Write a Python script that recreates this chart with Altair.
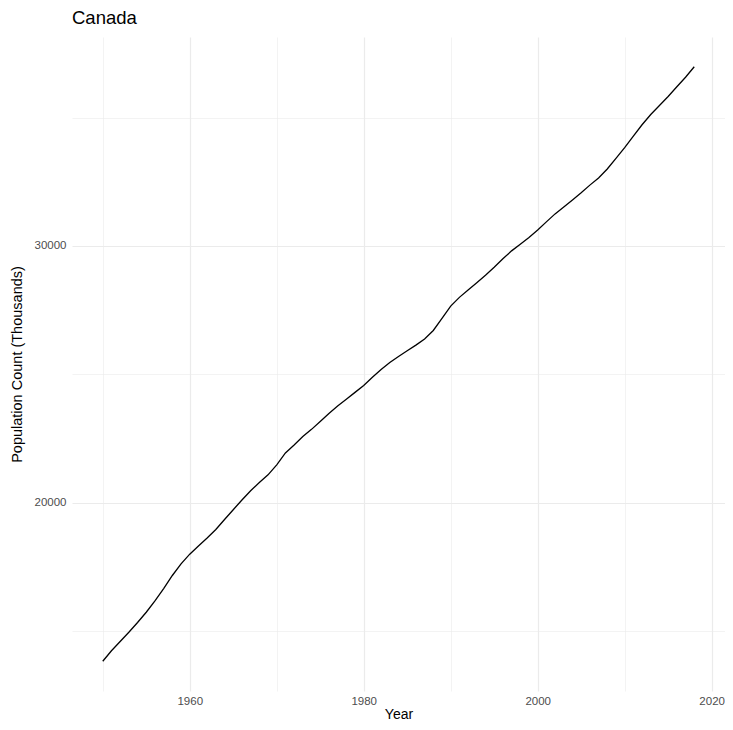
import altair as alt
import pandas as pd

years = list(range(1950, 2019))
population = [
    13830, 14240, 14600, 14960, 15340, 15740, 16180, 16660, 17170, 17620,
    18000, 18320, 18630, 18960, 19350, 19730, 20110, 20470, 20790, 21090,
    21480, 21940, 22250, 22580, 22860, 23170, 23480, 23770, 24030, 24300,
    24570, 24890, 25190, 25460, 25700, 25920, 26140, 26380, 26710, 27180,
    27660, 28000, 28290, 28570, 28860, 29170, 29500, 29810, 30070, 30330,
    30620, 30940, 31250, 31520, 31790, 32070, 32370, 32650, 33000, 33410,
    33830, 34280, 34720, 35120, 35470, 35820, 36200, 36570, 36980,
]
x_ticks = [1950, 1960, 1970, 1980, 1990, 2000, 2010, 2020]
y_ticks = [15000, 20000, 25000, 30000, 35000]

df = pd.DataFrame({"Year": years, "Population": population})

xr = max(years) - min(years)
x_dom = [min(years) - 0.052 * xr, max(years) + 0.052 * xr]
yr = max(population) - min(population)
y_dom = [min(population) - 0.05 * yr, max(population) + 0.05 * yr]

FONT = "Liberation Sans"

x_axis = alt.Axis(
    values=x_ticks,
    labelExpr="datum.value % 20 == 0 ? datum.value : ''",
    domain=False,
    ticks=False,
    grid=True,
    gridColor="#EBEBEB",
    gridWidth={"condition": {"test": "datum.value % 20 == 0", "value": 1.2}, "value": 0.6},
    labelColor="#4D4D4D",
    labelFontSize=11.5,
    labelFont=FONT,
    labelPadding=4,
    title="Year",
    titleFont=FONT,
    titleFontSize=14,
    titleFontWeight="normal",
    titleColor="#000000",
    titlePadding=1,
)

y_axis = alt.Axis(
    values=y_ticks,
    labelExpr="datum.value % 10000 == 0 ? datum.value : ''",
    domain=False,
    ticks=False,
    grid=True,
    gridColor="#EBEBEB",
    gridWidth={"condition": {"test": "datum.value % 10000 == 0", "value": 1.2}, "value": 0.6},
    labelColor="#4D4D4D",
    labelFontSize=11.5,
    labelFont=FONT,
    labelPadding=6,
    title="Population Count (Thousands)",
    titleFont=FONT,
    titleFontSize=14.5,
    titleFontWeight="normal",
    titleColor="#000000",
    titlePadding=10,
)

chart = (
    alt.Chart(df)
    .mark_line(color="black", strokeWidth=1.3)
    .encode(
        x=alt.X("Year:Q", scale=alt.Scale(domain=x_dom, nice=False, zero=False), axis=x_axis),
        y=alt.Y("Population:Q", scale=alt.Scale(domain=y_dom, nice=False, zero=False), axis=y_axis),
    )
    .properties(
        width=653,
        height=654,
        background="white",
        title=alt.TitleParams(
            "Canada", anchor="start", frame="group", font=FONT, fontSize=18.5,
            fontWeight="normal", color="#000000", offset=10,
        ),
        autosize=alt.AutoSizeParams(type="none"),
        padding={"left": 64, "top": 29, "right": 0, "bottom": 31},
    )
    .configure_view(strokeWidth=0, stroke="transparent")
)

chart.save("out.html", embed_options={"renderer": "svg", "actions": False})
